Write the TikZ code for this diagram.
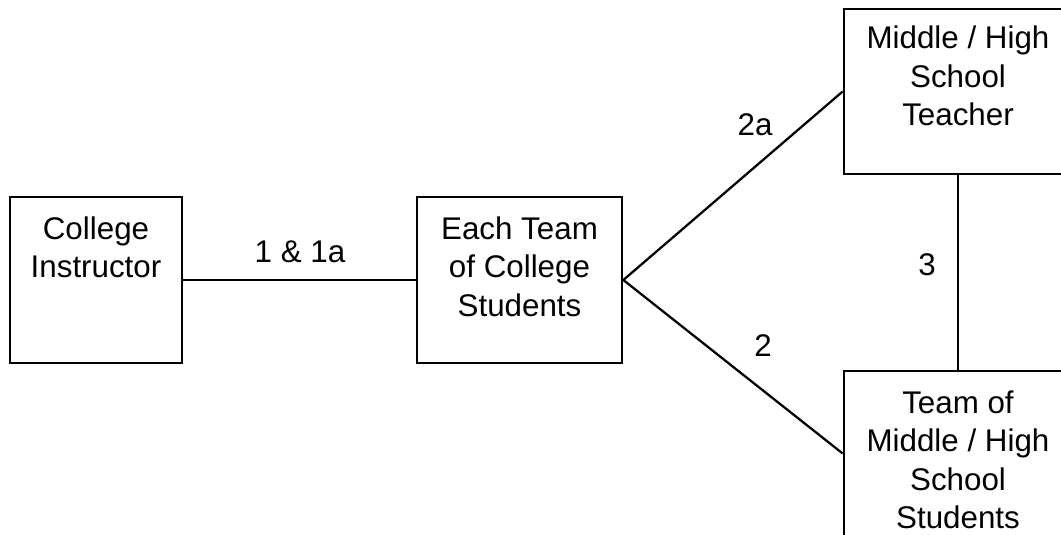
\documentclass[tikz,border=0pt]{standalone}
\usepackage{fontspec}
\setmainfont{Liberation Sans}
\usetikzlibrary{positioning}

\tikzset{
    box/.style={draw,line width=2pt,minimum height=124.5pt,inner sep=0pt},
    boxtext/.style={align=center,inner sep=0pt,font=\fontsize{23.5}{28.9}\selectfont},
    edgetext/.style={inner sep=0pt,font=\fontsize{23.5}{28.9}\selectfont},
    link/.style={line width=1.7pt}
}

\begin{document}
\begin{tikzpicture}[x=0.75pt,y=-0.75pt]
    \useasboundingbox (0,0) rectangle (1061,535);

    % boxes
    \node[box,minimum width=129pt] (instructor) at (96,280) {};
    \node[box,minimum width=153.75pt] (collegeteam) at (519.5,280) {};
    \node[box,minimum width=171pt,minimum height=123.75pt] (teacher) at (958,91.5) {};
    \node[box,minimum width=171pt,minimum height=123.75pt] (schoolteam) at (958,453.5) {};

    % box texts
    \node[boxtext,below=15.5pt of instructor.north] (instructortext) {College\\Instructor};
    \node[boxtext,below=15.5pt of collegeteam.north] (collegeteamtext) {Each Team\\of College\\Students};
    \node[boxtext,below=13.5pt of teacher.north] (teachertext) {Middle / High\\School\\Teacher};
    \node[boxtext,below=15.5pt of schoolteam.north] (schoolteamtext) {Team of\\Middle / High\\School\\Students};

    % links
    \draw[link] (instructor.east) -- (collegeteam.west);
    \draw[link] (collegeteam.east) -- (teacher.west);
    \draw[link] (collegeteam.east) -- (schoolteam.west);
    \draw[link] (teacher.south) -- (schoolteam.north);

    % link labels
    \node[edgetext] (onelabel) at (300,252) {1 \& 1a};
    \node[edgetext] (twoalabel) at (755,125) {2a};
    \node[edgetext] (twolabel) at (763,346) {2};
    \node[edgetext] (threelabel) at (927,265) {3};
\end{tikzpicture}
\end{document}
